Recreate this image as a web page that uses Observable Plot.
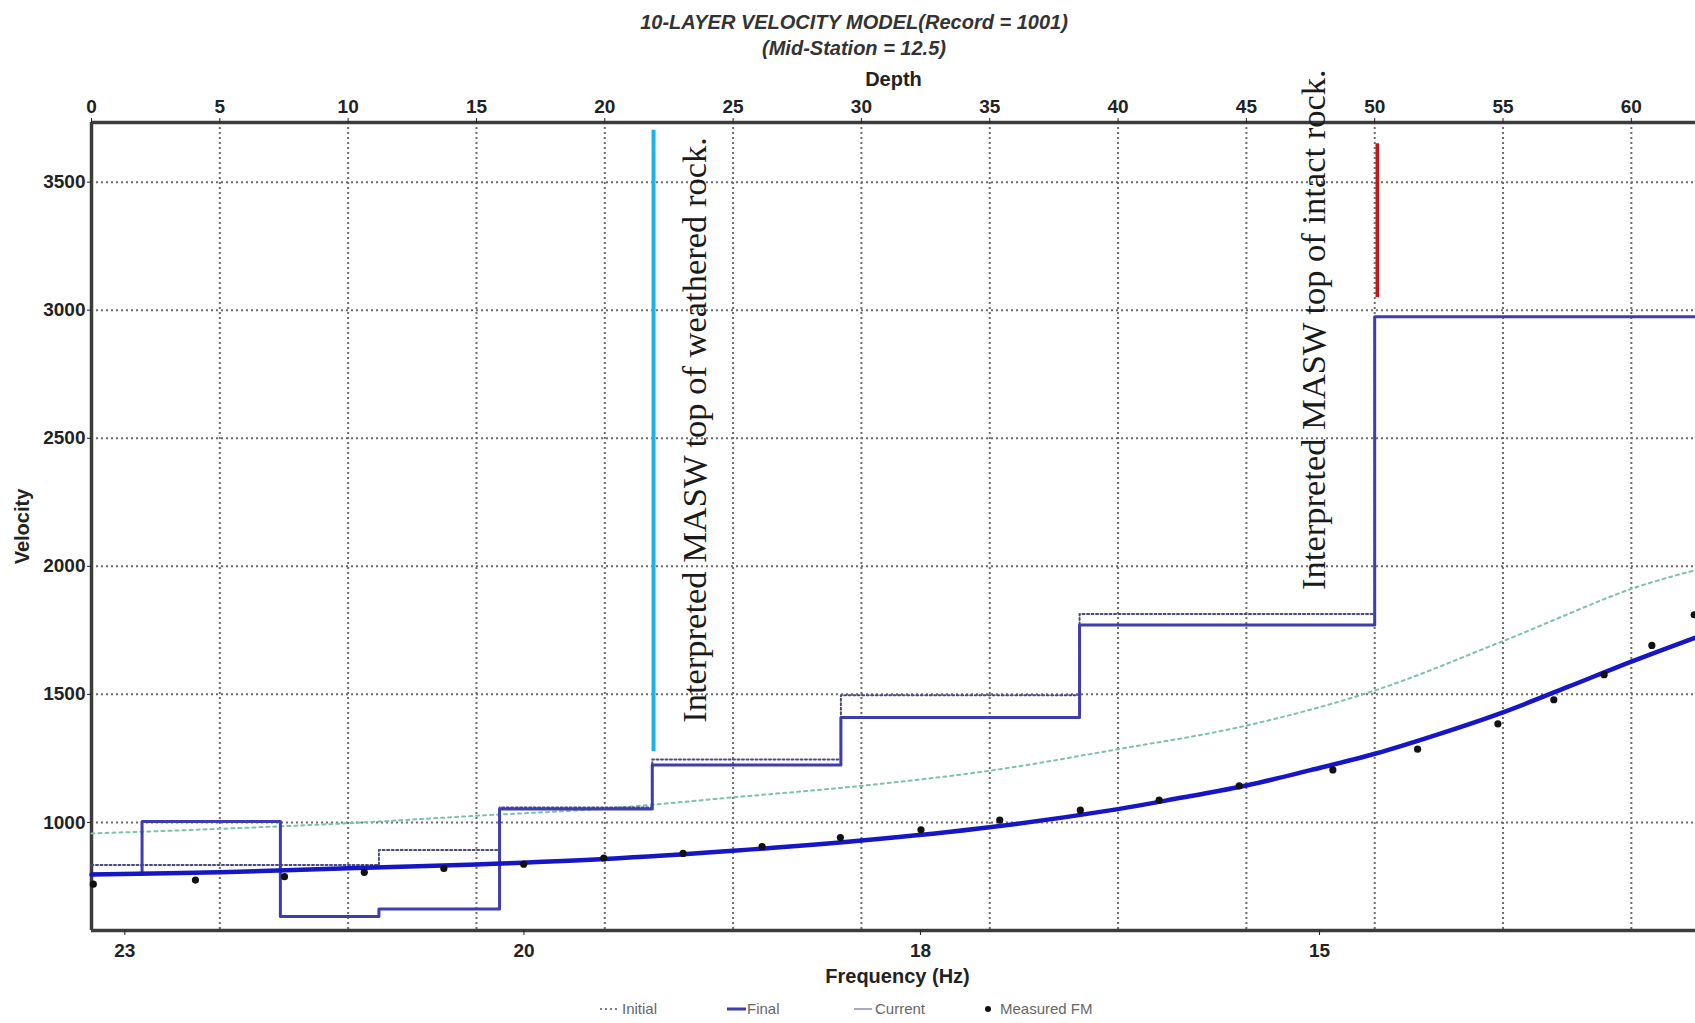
<!DOCTYPE html>
<html>
<head>
<meta charset="utf-8">
<script src="https://cdn.jsdelivr.net/npm/d3@7"></script>
<script src="https://cdn.jsdelivr.net/npm/@observablehq/plot@0.6"></script>
<style>
html,body{margin:0;padding:0;background:#fff;width:1695px;height:1023px;overflow:hidden;}
#title{position:absolute;left:14px;top:0;width:1680px;height:60px;text-align:center;font-family:"Liberation Sans",Arial,sans-serif;font-weight:bold;font-style:italic;font-size:20px;color:#333;}
#title .l1{position:absolute;left:0;right:0;top:10px;line-height:24px;}
#title .l2{position:absolute;left:0;right:0;top:36px;line-height:24px;}
#chart{position:absolute;left:0;top:60px;}
#legend{position:absolute;left:0;top:995px;width:1695px;height:28px;font-family:"Liberation Sans",Arial,sans-serif;font-size:15px;color:#666;}
.item{position:absolute;top:5px;height:18px;line-height:18px;white-space:nowrap;}
.item svg{position:absolute;top:0;}
</style>
</head>
<body>
<div id="title"><div class="l1" id="t1"></div><div class="l2" id="t2"></div></div>
<div id="chart"></div>
<div id="legend"></div>
<script>
// ---------- data ----------
const titleLine1 = "10-LAYER VELOCITY MODEL(Record = 1001)";
const titleLine2 = "(Mid-Station = 12.5)";
const topAxisTitle = "Depth";
const leftAxisTitle = "Velocity";
const bottomAxisTitle = "Frequency (Hz)";

const depthTicks = [0, 5, 10, 15, 20, 25, 30, 35, 40, 45, 50, 55, 60];
const velTicks = [1000, 1500, 2000, 2500, 3000, 3500];
const freqLabels = [23, 20, 18, 15];
const freqTickDepth = [1.3, 16.85, 32.3, 47.85];

const depthDomain = [0, 62.5];
const velDomain = [578, 3733];

// Final layer model (layer top depth, velocity)
const finalTop = [0, 1.97, 7.36, 11.2, 15.9, 21.85, 29.2, 38.5, 50.0];
const finalVel = [798, 1004, 633, 662, 1052, 1224, 1410, 1771, 2975];

// Initial layer model (visible part, ends at the half-space boundary)
const initialTop = [0, 11.2, 15.9, 21.85, 29.2, 38.5];
const initialVel = [834, 892, 1058, 1246, 1497, 1814];
const initialBottom = 50.0;

// Final dispersion curve
const finalCurveDepth = [0, 5, 10, 15, 20, 25, 30, 35, 40, 42.5, 45, 47.5, 50, 52.5, 55, 57.5, 60, 62.5];
const finalCurveVel = [797, 805, 821, 836, 857, 889, 929, 981, 1052, 1097, 1144, 1204, 1268, 1345, 1430, 1528, 1628, 1722];

// Initial dispersion curve
const initCurveDepth = [0, 5, 10, 15, 20, 25, 30, 35, 40, 45, 50, 55, 60, 62.5];
const initCurveVel = [957, 975, 997, 1026, 1054, 1098, 1143, 1202, 1286, 1378, 1515, 1708, 1912, 1985];

// Measured dispersion points
const measuredDepth = [0.07, 4.05, 7.52, 10.63, 13.73, 16.84, 19.96, 23.05, 26.13, 29.18, 32.32, 35.39, 38.53, 41.6, 44.72, 48.37, 51.67, 54.8, 56.98, 58.94, 60.8, 62.45];
const measuredVel = [759, 775, 788, 805, 820, 837, 861, 879, 906, 941, 971, 1009, 1048, 1087, 1143, 1205, 1286, 1385, 1479, 1577, 1691, 1811];

// Interpretation markers
const weatheredDepth = 21.9;
const weatheredRange = [1277, 3703];
const intactDepth = 50.1;
const intactRange = [3050, 3650];
const annotationText = ["Interpreted MASW top of weathered rock.", "Interpreted MASW top of intact rock."];
const annotationDepth = [23.96, 48.05];
const annotationVel = [1389, 1908];

const legendLabels = ["Initial", "Final", "Current", "Measured FM"];

// ---------- derived tables ----------
const stepTable = (tops, vels, end) => {
  const rows = tops.map((d, i) => ({depth: d, vel: vels[i]}));
  rows.push({depth: end, vel: vels[vels.length - 1]});
  return rows;
};
const finalModel = stepTable(finalTop, finalVel, depthDomain[1]);
const initialModel = stepTable(initialTop, initialVel, initialBottom);
const finalCurve = finalCurveDepth.map((d, i) => ({depth: d, vel: finalCurveVel[i]}));
const initCurve = initCurveDepth.map((d, i) => ({depth: d, vel: initCurveVel[i]}));
const measured = measuredDepth.map((d, i) => ({depth: d, vel: measuredVel[i]}));
const annotations = annotationText.map((t, i) => ({text: t, depth: annotationDepth[i], vel: annotationVel[i]}));
const freqMap = new Map(freqTickDepth.map((d, i) => [d, String(freqLabels[i])]));

document.getElementById("t1").textContent = titleLine1;
document.getElementById("t2").textContent = titleLine2;

const gridStyle = {stroke: "#6c6c6c", strokeOpacity: 1, strokeWidth: 2, strokeDasharray: "2,3"};
const frameStyle = {stroke: "#3c3c3c", strokeWidth: 3.5};
const axisFont = {fontSize: 19, fontWeight: "bold"};

const chart = Plot.plot({
  width: 1695,
  height: 935,
  marginTop: 62,
  marginBottom: 65,
  marginLeft: 91,
  marginRight: 0,
  style: {fontFamily: "'Liberation Sans', Arial, sans-serif", fontSize: "19px", fontWeight: "bold", color: "#222", background: "#fff", overflow: "visible"},
  x: {domain: depthDomain},
  y: {domain: velDomain},
  marks: [
    Plot.gridX(depthTicks.filter(d => d > depthDomain[0]), gridStyle),
    Plot.gridY(velTicks, gridStyle),
    Plot.ruleX([depthDomain[0]], frameStyle),
    Plot.ruleY(velDomain, frameStyle),
    Plot.line(initCurve, {x: "depth", y: "vel", curve: "catmull-rom", stroke: "#7cc2a8", strokeWidth: 2, strokeDasharray: "3,4"}),
    Plot.line(initialModel, {x: "depth", y: "vel", curve: "step-after", stroke: "#4a4a82", strokeWidth: 2, strokeDasharray: "2,2.5"}),
    Plot.line(finalModel, {x: "depth", y: "vel", curve: "step-after", stroke: "#3d3daf", strokeWidth: 3}),
    Plot.line(finalCurve, {x: "depth", y: "vel", curve: "catmull-rom", stroke: "#1616c6", strokeWidth: 4.5}),
    Plot.dot(measured, {x: "depth", y: "vel", r: 3.6, fill: "#111", stroke: "none"}),
    Plot.ruleX([weatheredDepth], {y1: weatheredRange[0], y2: weatheredRange[1], stroke: "#1cb3e6", strokeWidth: 4}),
    Plot.ruleX([intactDepth], {y1: intactRange[0], y2: intactRange[1], stroke: "#c81414", strokeWidth: 3.5}),
    Plot.text(annotations, {x: "depth", y: "vel", text: "text", rotate: -90, textAnchor: "start", lineAnchor: "bottom",
      fontFamily: "'Liberation Serif', 'Times New Roman', serif", fontSize: 34.5, fontWeight: "normal", fill: "#1a1a1a"}),
    Plot.axisX(depthTicks, {anchor: "top", tickSize: 5, tickPadding: 5, label: null, tickFormat: d => String(d), ...axisFont}),
    Plot.axisX(freqTickDepth, {anchor: "bottom", tickSize: 5, tickPadding: 8, label: null, tickFormat: d => freqMap.get(d), ...axisFont}),
    Plot.axisY(velTicks, {anchor: "left", tickSize: 4, tickPadding: 2, label: null, tickFormat: d => String(d), ...axisFont}),
    Plot.text([topAxisTitle], {text: d => d, frameAnchor: "top", lineAnchor: "middle", textAnchor: "middle", dy: -43, fontSize: 20, fontWeight: "bold", fill: "#222"}),
    Plot.text([bottomAxisTitle], {text: d => d, frameAnchor: "bottom", lineAnchor: "middle", textAnchor: "middle", dy: 46, dx: 4, fontSize: 20, fontWeight: "bold", fill: "#222"}),
    Plot.text([leftAxisTitle], {text: d => d, frameAnchor: "left", lineAnchor: "middle", textAnchor: "middle", dx: -69, rotate: -90, fontSize: 20, fontWeight: "bold", fill: "#222"})
  ]
});
document.getElementById("chart").appendChild(chart);

// ---------- legend ----------
const legend = document.getElementById("legend");
const legendItems = [
  {left: 599, sample: '<svg width="20" height="18"><line x1="1" y1="9" x2="19" y2="9" stroke="#7a7a96" stroke-width="2" stroke-dasharray="2,3"/></svg>', textLeft: 23},
  {left: 727, sample: '<svg width="20" height="18"><line x1="0" y1="9" x2="19" y2="9" stroke="#3d3daf" stroke-width="3"/></svg>', textLeft: 20},
  {left: 854, sample: '<svg width="20" height="18"><line x1="0" y1="9" x2="18" y2="9" stroke="#8a8ab8" stroke-width="1.5"/></svg>', textLeft: 21},
  {left: 982, sample: '<svg width="14" height="18"><circle cx="6" cy="9" r="3" fill="#111"/></svg>', textLeft: 18}
];
legendItems.forEach((it, i) => {
  const d = document.createElement("div");
  d.className = "item";
  d.style.left = it.left + "px";
  d.innerHTML = it.sample + '<span style="position:absolute;left:' + it.textLeft + 'px;top:0;">' + legendLabels[i] + '</span>';
  legend.appendChild(d);
});
</script>
</body>
</html>
